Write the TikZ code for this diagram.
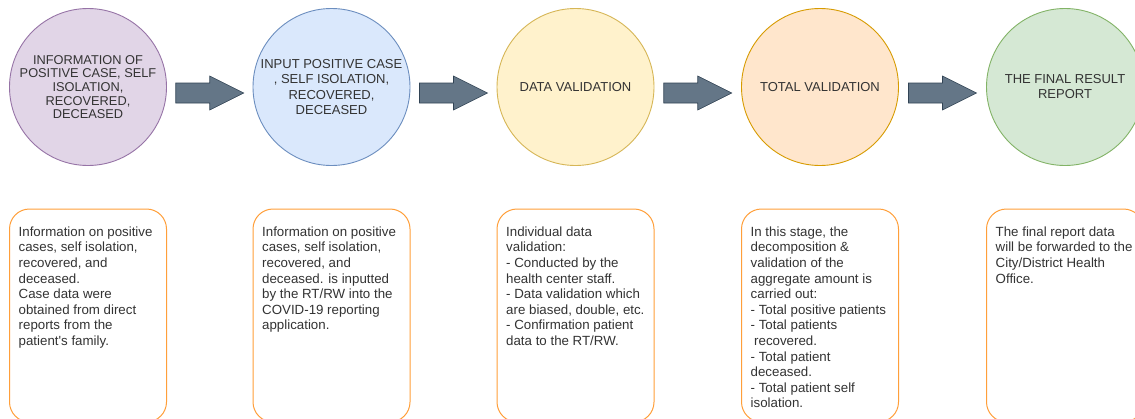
\documentclass[tikz,border=0pt]{standalone}
\usepackage{fontspec}
\setmainfont{Liberation Sans}
\usetikzlibrary{calc}

\definecolor{txt}{HTML}{333333}
\definecolor{purplefill}{HTML}{E1D5E7}\definecolor{purpleline}{HTML}{9673A6}
\definecolor{bluefill}{HTML}{DAE8FC}\definecolor{blueline}{HTML}{6C8EBF}
\definecolor{yellowfill}{HTML}{FFF2CC}\definecolor{yellowline}{HTML}{D6B656}
\definecolor{orangefill}{HTML}{FFE6CC}\definecolor{orangeline}{HTML}{D79B00}
\definecolor{greenfill}{HTML}{D5E8D4}\definecolor{greenline}{HTML}{82B366}
\definecolor{arrowfill}{HTML}{647687}\definecolor{arrowline}{HTML}{314354}
\definecolor{boxline}{HTML}{FF9F3A}

\begin{document}
\begin{tikzpicture}[x=1pt,y=-1pt,
  stage/.style={circle, draw, line width=0.9pt, minimum size=157pt, inner sep=0pt},
  stagetext/.style={text=txt, align=center, inner sep=0pt,
    font=\fontsize{13}{15.6}\selectfont},
  infobox/.style={draw=boxline, line width=1pt, fill=white, rounded corners=20pt,
    minimum width=157pt, minimum height=213pt, inner sep=0pt},
  infotext/.style={text=txt, align=left, anchor=north west, inner sep=0pt,
    font=\fontsize{13.3}{15.6}\selectfont},
  blockarrow/.pic={
    \draw[fill=arrowfill, draw=arrowline, line width=0.6pt]
      (-34,-10) -- (0,-10) -- (0,-17) -- (34,0) -- (0,17) -- (0,10) -- (-34,10) -- cycle;
  }]
\clip (0,0) rectangle (1135,418);
\fill[white] (0,0) rectangle (1135,418);

% process stages
\node[stage, fill=purplefill, draw=purpleline] (c1) at (88,87) {};
\node[stage, fill=bluefill,   draw=blueline]   (c2) at (331.5,87) {};
\node[stage, fill=yellowfill, draw=yellowline] (c3) at (575.5,87) {};
\node[stage, fill=orangefill, draw=orangeline] (c4) at (820,87) {};
\node[stage, fill=greenfill,  draw=greenline]  (c5) at (1065,87) {};

\node[stagetext, font=\fontsize{12.8}{13.6}\selectfont] (c1-label) at (c1)
  {INFORMATION OF\\POSITIVE CASE, SELF\\ISOLATION,\\RECOVERED,\\DECEASED};
\node[stagetext] (c2-label) at (c2)
  {INPUT POSITIVE CASE\\, SELF ISOLATION,\\RECOVERED,\\DECEASED};
\node[stagetext] (c3-label) at (c3) {DATA VALIDATION};
\node[stagetext] (c4-label) at (c4) {TOTAL VALIDATION};
\node[stagetext, font=\fontsize{13}{15}\selectfont] (c5-label) at (c5)
  {THE FINAL RESULT\\REPORT};

% block arrows between stages
\coordinate (a1) at ($(c1)!0.5!(c2)+(0,6)$);
\coordinate (a2) at ($(c2)!0.5!(c3)+(0,6)$);
\coordinate (a3) at ($(c3)!0.5!(c4)+(0,6)$);
\coordinate (a4) at ($(c4)!0.5!(c5)+(0,6)$);
\pic at (a1) {blockarrow};
\pic at (a2) {blockarrow};
\pic at (a3) {blockarrow};
\pic at (a4) {blockarrow};

% description boxes
\coordinate (row) at (0,315.5);
\node[infobox] (b1) at (c1 |- row) {};
\node[infobox] (b2) at (c2 |- row) {};
\node[infobox] (b3) at (c3 |- row) {};
\node[infobox] (b4) at (c4 |- row) {};
\node[infobox] (b5) at (c5 |- row) {};

\node[infotext] (b1-text) at ($(b1.north west)+(9.5,18)$)
  {Information on positive\\cases, self isolation,\\recovered, and\\deceased.\\Case data were\\obtained from direct\\reports from the\\patient\textquotesingle s family.};
\node[infotext] (b2-text) at ($(b2.north west)+(9.5,18)$)
  {Information on positive\\cases, self isolation,\\recovered, and\\deceased. is inputted\\by the RT/RW into the\\COVID-19 reporting\\application.};
\node[infotext] (b3-text) at ($(b3.north west)+(9.5,18)$)
  {Individual data\\validation:\\- Conducted by the\\health center staff.\\- Data validation which\\are biased, double, etc.\\- Confirmation patient\\data to the RT/RW.};
\node[infotext] (b4-text) at ($(b4.north west)+(9.5,18)$)
  {In this stage, the\\decomposition \&\\validation of the\\aggregate amount is\\carried out:\\- Total positive patients\\- Total patients\\\hspace*{3.5pt}recovered.\\- Total patient\\deceased.\\- Total patient self\\isolation.};
\node[infotext] (b5-text) at ($(b5.north west)+(9.5,18)$)
  {The final report data\\will be forwarded to the\\City/District Health\\Office.};
\end{tikzpicture}
\end{document}
